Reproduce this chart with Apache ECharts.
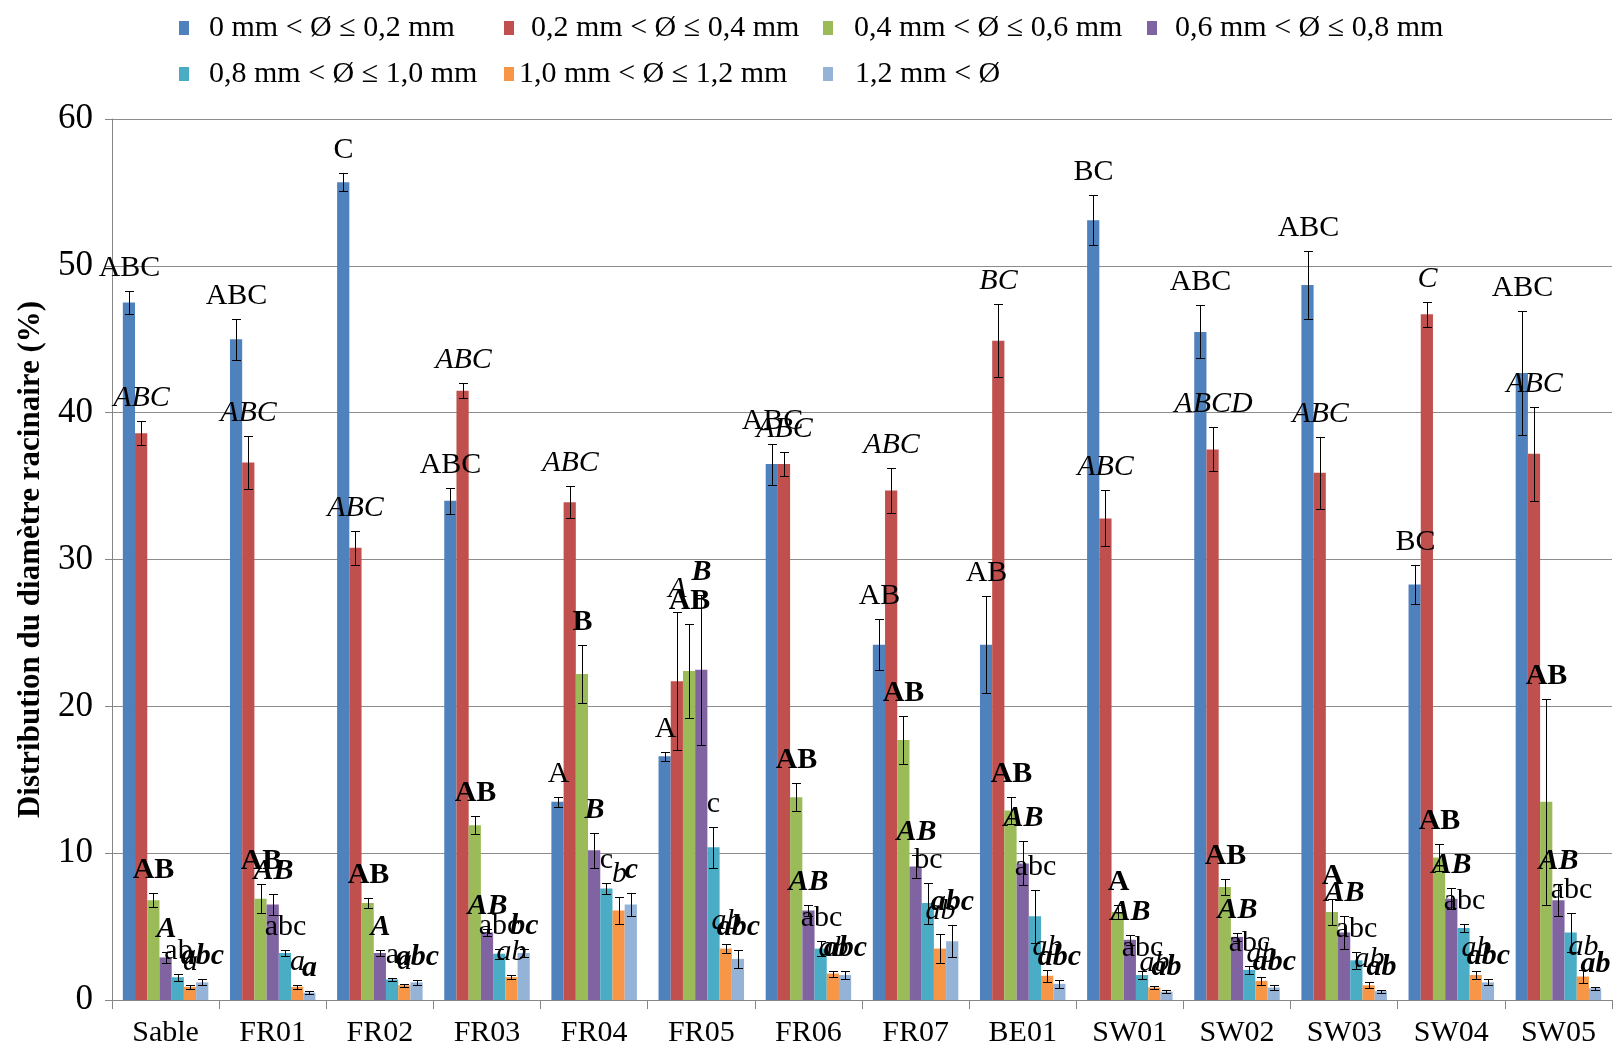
<!DOCTYPE html>
<html>
<head>
<meta charset="utf-8">
<script src="https://cdn.jsdelivr.net/npm/echarts@6/dist/echarts.min.js"></script>
<style>
  html, body { margin: 0; padding: 0; background: #fff; }
  #chart { width: 1623px; height: 1055px; }
</style>
</head>
<body>
<div id="chart"></div>
<script>
// sites
const categories = ['Sable', 'FR01', 'FR02', 'FR03', 'FR04', 'FR05', 'FR06', 'FR07', 'BE01', 'SW01', 'SW02', 'SW03', 'SW04', 'SW05'];

// diameter classes
const classNames = [
  '0 mm < Ø ≤ 0,2 mm', '0,2 mm < Ø ≤ 0,4 mm', '0,4 mm < Ø ≤ 0,6 mm', '0,6 mm < Ø ≤ 0,8 mm',
  '0,8 mm < Ø ≤ 1,0 mm', '1,0 mm < Ø ≤ 1,2 mm', '1,2 mm < Ø'
];

// mean %, error, letters for each class
const pct02 = [47.5, 45.0, 55.7, 34.0, 13.5, 16.6, 36.5, 24.2, 24.2, 53.1, 45.5, 48.7, 28.3, 42.7];
const sd02 = [0.8, 1.4, 0.6, 0.9, 0.35, 0.3, 1.4, 1.75, 3.3, 1.7, 1.8, 2.3, 1.35, 4.2];
const sig02 = ['ABC', 'ABC', 'C', 'ABC', 'A', 'A', 'ABC', 'AB', 'AB', 'BC', 'ABC', 'ABC', 'BC', 'ABC'];

const pct04 = [38.6, 36.6, 30.8, 41.5, 33.9, 21.7, 36.5, 34.7, 44.9, 32.8, 37.5, 35.9, 46.7, 37.2];
const sd04 = [0.8, 1.8, 1.15, 0.5, 1.1, 4.7, 0.8, 1.5, 2.5, 1.9, 1.5, 2.45, 0.85, 3.2];
const sig04 = ['ABC', 'ABC', 'ABC', 'ABC', 'ABC', 'A', 'ABC', 'ABC', 'BC', 'ABC', 'ABCD', 'ABC', 'C', 'ABC'];

const pct06 = [6.8, 6.9, 6.6, 11.9, 22.2, 22.4, 13.8, 17.7, 12.9, 6.0, 7.7, 6.0, 9.7, 13.5];
const sd06 = [0.5, 1.0, 0.35, 0.6, 2.0, 3.2, 0.95, 1.65, 0.9, 0.45, 0.55, 0.9, 0.9, 7.0];
const sig06 = ['AB', 'AB', 'AB', 'AB', 'B', 'AB', 'AB', 'AB', 'AB', 'A', 'AB', 'A', 'AB', 'AB'];

const pct08 = [2.9, 6.5, 3.2, 4.6, 10.2, 22.5, 6.1, 9.1, 9.3, 4.1, 4.3, 4.6, 6.9, 6.8];
const sd08 = [0.4, 0.7, 0.2, 0.25, 1.2, 5.1, 0.4, 0.8, 1.5, 0.35, 0.25, 1.1, 0.7, 1.1];
const sig08 = ['A', 'AB', 'A', 'AB', 'B', 'B', 'AB', 'AB', 'AB', 'AB', 'AB', 'AB', 'AB', 'AB'];

const pct10 = [1.55, 3.2, 1.4, 3.15, 7.6, 10.4, 3.5, 6.6, 5.7, 1.7, 2.05, 2.7, 4.9, 4.6];
const sd10 = [0.25, 0.2, 0.1, 0.35, 0.4, 1.4, 0.5, 1.4, 1.8, 0.25, 0.25, 0.6, 0.3, 1.3];
const sig10 = ['ab', 'abc', 'a', 'abc', 'c', 'c', 'abc', 'bc', 'abc', 'abc', 'abc', 'abc', 'abc', 'abc'];

const pct12 = [0.9, 0.9, 1.0, 1.55, 6.1, 3.5, 1.8, 3.5, 1.65, 0.85, 1.3, 1.0, 1.7, 1.6];
const sd12 = [0.15, 0.15, 0.1, 0.15, 0.9, 0.3, 0.2, 1.0, 0.4, 0.1, 0.3, 0.2, 0.3, 0.45];
const sig12 = ['a', 'a', 'a', 'ab', 'b', 'ab', 'ab', 'ab', 'ab', 'ab', 'ab', 'ab', 'ab', 'ab'];

const pctOver = [1.2, 0.5, 1.2, 3.2, 6.5, 2.8, 1.7, 4.0, 1.1, 0.57, 0.85, 0.6, 1.2, 0.8];
const sdOver = [0.2, 0.1, 0.15, 0.3, 0.8, 0.6, 0.3, 1.1, 0.27, 0.1, 0.2, 0.1, 0.2, 0.1];
const sigOver = ['abc', 'a', 'abc', 'bc', 'c', 'abc', 'abc', 'abc', 'abc', 'ab', 'abc', 'ab', 'abc', 'ab'];

const yTicks = { min: 0, max: 60, step: 10 };

const values = [pct02, pct04, pct06, pct08, pct10, pct12, pctOver];
const errors = [sd02, sd04, sd06, sd08, sd10, sd12, sdOver];
const letters = [sig02, sig04, sig06, sig08, sig10, sig12, sigOver];

const colors = ['#4F81BD', '#C0504D', '#9BBB59', '#8064A2', '#4BACC6', '#F79646', '#95B3D7'];
// style of the letters above each class (Excel-like: normal / italic / bold / bold italic)
const letterFonts = ['normal normal', 'italic normal', 'normal bold', 'italic bold', 'normal normal', 'italic normal', 'italic bold'];

const FONT = '"Liberation Serif", "Times New Roman", serif';
const BAR_FRAC = 0.114;

const chart = echarts.init(document.getElementById('chart'));

// error bar + letter for one class
const errorRenderer = (s) => (params, api) => {
  const i = api.value(0);
  const v = api.value(1);
  const e = api.value(2);
  const bw = api.size([1, 0])[0] * BAR_FRAC;
  const x = Math.round(api.coord([i, v])[0] + (s - 3) * bw) + 0.5;
  const yTop = Math.round(api.coord([i, v + e])[1]) + 0.5;
  const yBot = Math.round(api.coord([i, v - e])[1]) + 0.5;
  const cap = 4.5;
  const ls = { stroke: '#000', lineWidth: 1 };
  return {
    type: 'group',
    children: [
      { type: 'line', shape: { x1: x, y1: yTop, x2: x, y2: yBot }, style: ls },
      { type: 'line', shape: { x1: x - cap, y1: yTop, x2: x + cap, y2: yTop }, style: ls },
      { type: 'line', shape: { x1: x - cap, y1: yBot, x2: x + cap, y2: yBot }, style: ls },
      {
        type: 'text',
        x: x,
        y: yTop - 8,
        style: {
          text: letters[s][params.dataIndex],
          fill: '#000',
          font: letterFonts[s] + ' 30px ' + FONT,
          align: 'center',
          verticalAlign: 'bottom'
        }
      }
    ]
  };
};

// legend: key left, text start, top (Excel puts them in columns)
const legendKeys = [174, 499, 818, 1142, 174, 499, 818];
const legendText = [204, 526, 849, 1170, 204, 514, 850];
const legendTops = [8, 8, 8, 8, 54, 54, 54];

const legends = classNames.map((name, k) => ({
  data: [name],
  left: legendKeys[k],
  top: legendTops[k],
  itemWidth: 10,
  itemHeight: 14,
  icon: 'rect',
  selectedMode: false,
  textStyle: {
    fontFamily: FONT,
    fontSize: 30,
    color: '#000',
    lineHeight: 30,
    padding: [0, 0, 0, Math.max(0, legendText[k] - legendKeys[k] - 15)]
  }
}));

const barSeries = classNames.map((name, s) => ({
  name: name,
  type: 'bar',
  data: values[s],
  barWidth: (BAR_FRAC * 100) + '%',
  barGap: '0%',
  itemStyle: { color: colors[s] },
  z: 2
}));

const errSeries = classNames.map((name, s) => ({
  type: 'custom',
  renderItem: errorRenderer(s),
  data: categories.map((c, i) => [i, values[s][i], errors[s][i]]),
  encode: { x: 0, y: 1 },
  z: 5,
  silent: true
}));

const option = {
  backgroundColor: '#fff',
  animation: false,
  legend: legends,
  grid: { left: 112, right: 11, top: 119, bottom: 55 },
  xAxis: {
    type: 'category',
    data: categories,
    axisLine: { lineStyle: { color: '#868686', width: 1 } },
    axisTick: { show: true, length: 9, interval: 0, lineStyle: { color: '#868686' } },
    axisLabel: { fontFamily: FONT, fontSize: 30, color: '#000', margin: 18, interval: 0 }
  },
  yAxis: {
    type: 'value',
    min: yTicks.min,
    max: yTicks.max,
    interval: yTicks.step,
    name: 'Distribution du diamètre racinaire (%)',
    nameLocation: 'middle',
    nameGap: 66,
    nameTextStyle: { fontFamily: FONT, fontSize: 31, fontWeight: 'bold', color: '#000' },
    axisLine: { show: true, lineStyle: { color: '#868686', width: 1 } },
    axisTick: { show: true, length: 7, lineStyle: { color: '#868686' } },
    axisLabel: { fontFamily: FONT, fontSize: 35, color: '#000', margin: 19 },
    splitLine: { lineStyle: { color: '#8c8c8c', width: 1 } }
  },
  series: barSeries.concat(errSeries)
};

chart.setOption(option);
</script>
</body>
</html>
